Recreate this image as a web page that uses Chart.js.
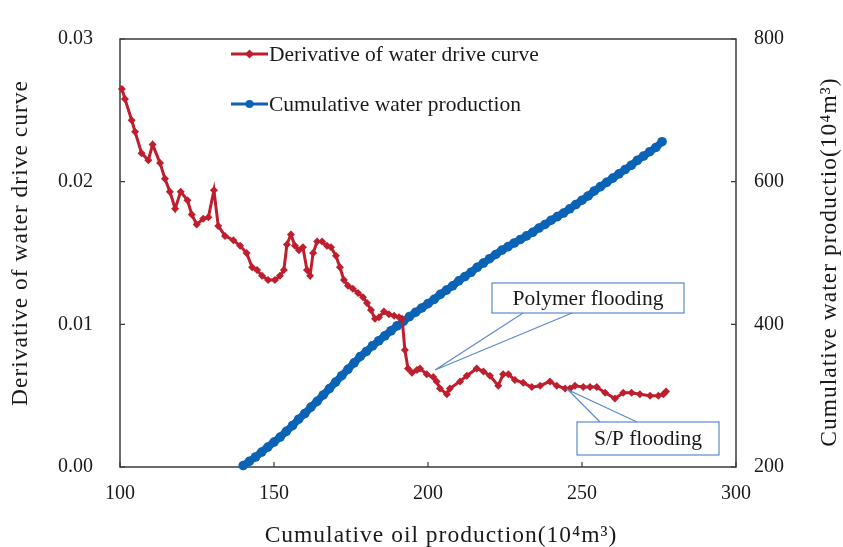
<!DOCTYPE html>
<html>
<head>
<meta charset="utf-8">
<script src="https://cdn.jsdelivr.net/npm/chart.js@4.4.1/dist/chart.umd.min.js"></script>
<style>
  html, body { margin: 0; padding: 0; background: #fff; }
  #wrap { width: 843px; height: 547px; }
</style>
</head>
<body>
<div id="wrap"><canvas id="chart"></canvas></div>
<script>
// cumulative oil production (10^4 m3) for the derivative curve
const oilProdDeriv = [100.6, 101.6, 103.8, 104.9, 107.0, 109.2, 110.6, 113.0, 114.6, 116.2,
    117.9, 119.7, 121.9, 123.3, 124.9, 127.0, 128.7, 130.5, 131.9, 134.1,
    136.8, 139.0, 141.1, 142.9, 144.5, 146.1, 148.1, 150.3, 151.9, 153.2,
    154.2, 155.5, 156.8, 158.1, 159.4, 160.7, 161.7, 162.7, 164.0, 165.6,
    167.2, 168.5, 170.1, 171.4, 172.7, 174.0, 175.6, 177.3, 178.9, 180.2,
    181.5, 182.8, 184.1, 185.7, 187.3, 189.0, 190.6, 191.6, 192.5, 193.5,
    194.8, 196.4, 197.4, 199.6, 201.7, 202.8, 203.9, 206.1, 207.1, 210.4,
    212.6, 215.8, 218.0, 220.1, 222.8, 224.4, 226.1, 228.2, 230.9, 233.7,
    236.4, 239.6, 241.8, 244.5, 246.1, 247.7, 250.4, 252.6, 254.8, 257.5,
    260.7, 263.4, 266.1, 268.8, 272.1, 274.8, 276.4, 277.3];
const derivative = [0.0265, 0.0258, 0.0243, 0.0235, 0.0220, 0.0215, 0.0226, 0.0213, 0.0202, 0.0193,
    0.0181, 0.0193, 0.0187, 0.0177, 0.0170, 0.0174, 0.0175, 0.0194, 0.0169, 0.0162,
    0.0159, 0.0155, 0.0150, 0.0140, 0.0138, 0.0134, 0.0131, 0.0131, 0.0134, 0.0138,
    0.0156, 0.0163, 0.0155, 0.0152, 0.0154, 0.0138, 0.0134, 0.0150, 0.0158, 0.0158,
    0.0155, 0.0154, 0.0148, 0.0140, 0.0131, 0.0127, 0.0125, 0.0122, 0.0119, 0.0115,
    0.0110, 0.0104, 0.0105, 0.0109, 0.0107, 0.0106, 0.0105, 0.0104, 0.0082, 0.0069,
    0.0066, 0.0068, 0.0069, 0.0065, 0.0063, 0.0060, 0.0055, 0.0051, 0.0055, 0.0060,
    0.0064, 0.0069, 0.0067, 0.0064, 0.0057, 0.0065, 0.0065, 0.0061, 0.0059, 0.0056,
    0.0057, 0.0060, 0.0057, 0.0055, 0.0055, 0.0057, 0.0056, 0.0056, 0.0056, 0.0052,
    0.0048, 0.0052, 0.0052, 0.0051, 0.0050, 0.0050, 0.0051, 0.0053];

// cumulative oil production for the water production curve
const oilProdWater = [140, 142, 144, 146, 148, 150, 152, 154, 156, 158,
    160, 162, 164, 166, 168, 170, 172, 174, 176, 178,
    180, 182, 184, 186, 188, 190, 192, 194, 196, 198,
    200, 202, 204, 206, 208, 210, 212, 214, 216, 218,
    220, 222, 224, 226, 228, 230, 232, 234, 236, 238,
    240, 242, 244, 246, 248, 250, 252, 254, 256, 258,
    260, 262, 264, 266, 268, 270, 272, 274, 276];
const waterProd = [202, 208, 214, 221, 228, 235, 242, 250, 258, 267,
    275, 284, 292, 301, 310, 319, 328, 337, 346, 355,
    362, 370, 377, 384, 391, 398, 404, 411, 417, 423,
    429, 435, 442, 448, 454, 461, 467, 473, 480, 486,
    492, 498, 504, 509, 514, 519, 524, 529, 535, 540,
    546, 551, 556, 562, 568, 574, 580, 587, 593, 599,
    605, 611, 617, 623, 630, 636, 642, 648, 656];

const xTicks = [100, 150, 200, 250, 300];
const leftTicks = [0, 0.01, 0.02, 0.03];
const rightTicks = [200, 400, 600, 800];

const seriesNames = ['Derivative of water drive curve', 'Cumulative water production'];
const callouts = [
    { text: 'Polymer flooding', x: 202.3, y: 0.0068 },
    { text: 'S/P flooding', x: 245.5, y: 0.0054 }
];

const RED = '#BE1E2D';
const BLUE = '#0B63B6';
const SERIF = '"Liberation Serif", "Times New Roman", serif';
const TEXT = '#1a1a1a';

function drawDiamond(ctx, x, y, r, color) {
    ctx.fillStyle = color;
    ctx.beginPath();
    ctx.moveTo(x, y - r);
    ctx.lineTo(x + r, y);
    ctx.lineTo(x, y + r);
    ctx.lineTo(x - r, y);
    ctx.closePath();
    ctx.fill();
}

// frame with inward ticks, like the original spreadsheet chart
const framePlugin = {
    id: 'frame',
    beforeDatasetsDraw(chart) {
        const ctx = chart.ctx;
        const a = chart.chartArea;
        const sx = chart.scales.x, sl = chart.scales.y, sr = chart.scales.y1;
        ctx.save();
        ctx.strokeStyle = '#3a3a3a';
        ctx.lineWidth = 1.5;
        ctx.strokeRect(a.left, a.top, a.right - a.left, a.bottom - a.top);
        ctx.lineWidth = 1.2;
        ctx.beginPath();
        xTicks.forEach(v => {
            const px = sx.getPixelForValue(v);
            ctx.moveTo(px, a.bottom);
            ctx.lineTo(px, a.bottom - 5);
        });
        leftTicks.forEach(v => {
            const py = sl.getPixelForValue(v);
            ctx.moveTo(a.left, py);
            ctx.lineTo(a.left + 5, py);
        });
        rightTicks.forEach(v => {
            const py = sr.getPixelForValue(v);
            ctx.moveTo(a.right, py);
            ctx.lineTo(a.right - 5, py);
        });
        ctx.stroke();
        ctx.restore();
    }
};

// legend in the plot, callouts and axis titles
const textPlugin = {
    id: 'texts',
    afterDatasetsDraw(chart) {
        const ctx = chart.ctx;
        const sx = chart.scales.x, sl = chart.scales.y;
        ctx.save();

        // legend
        const legendRows = [
            { y: 54, color: RED, diamond: true },
            { y: 104, color: BLUE, diamond: false }
        ];
        ctx.font = '21.5px ' + SERIF;
        ctx.textBaseline = 'middle';
        ctx.textAlign = 'left';
        legendRows.forEach((row, i) => {
            ctx.strokeStyle = row.color;
            ctx.lineWidth = 3;
            ctx.beginPath();
            ctx.moveTo(231, row.y);
            ctx.lineTo(268, row.y);
            ctx.stroke();
            if (row.diamond) {
                drawDiamond(ctx, 249.5, row.y, 4.5, row.color);
            } else {
                ctx.fillStyle = row.color;
                ctx.beginPath();
                ctx.arc(249.5, row.y, 4, 0, Math.PI * 2);
                ctx.fill();
            }
            ctx.fillStyle = TEXT;
            ctx.fillText(seriesNames[i], 269, row.y + 1);
        });

        // callouts
        const boxes = [
            { l: 492, t: 283, r: 684, b: 313, base: [523, 572], edge: 'b' },
            { l: 577, t: 422, r: 719, b: 455, base: [600, 637], edge: 't' }
        ];
        ctx.font = '21.5px ' + SERIF;
        ctx.textAlign = 'center';
        callouts.forEach((c, i) => {
            const bx = boxes[i];
            const tx = sx.getPixelForValue(c.x), ty = sl.getPixelForValue(c.y);
            const ey = bx.edge === 'b' ? bx.b : bx.t;
            ctx.fillStyle = '#fff';
            ctx.fillRect(bx.l, bx.t, bx.r - bx.l, bx.b - bx.t);
            ctx.strokeStyle = '#5B8BC8';
            ctx.lineWidth = 1.2;
            ctx.strokeRect(bx.l, bx.t, bx.r - bx.l, bx.b - bx.t);
            ctx.beginPath();
            ctx.moveTo(bx.base[0], ey);
            ctx.lineTo(tx, ty);
            ctx.lineTo(bx.base[1], ey);
            ctx.stroke();
            ctx.fillStyle = TEXT;
            ctx.fillText(c.text, (bx.l + bx.r) / 2, (bx.t + bx.b) / 2 + 1);
        });

        // axis titles
        ctx.font = '23.5px ' + SERIF;
        ctx.letterSpacing = '1px';
        ctx.fillStyle = TEXT;
        ctx.textAlign = 'center';
        ctx.fillText('Cumulative oil production(10\u2074m\u00b3)', 441, 536);

        ctx.translate(21, 243);
        ctx.rotate(-Math.PI / 2);
        ctx.fillText('Derivative of water drive curve', 0, 0);
        ctx.setTransform(1, 0, 0, 1, 0, 0);

        ctx.translate(830, 262);
        ctx.rotate(-Math.PI / 2);
        ctx.fillText('Cumulative water productio(10\u2074m\u00b3)', 0, 0);
        ctx.restore();
    }
};

const tickFont = { family: SERIF, size: 20 };

new Chart(document.getElementById('chart'), {
    type: 'scatter',
    data: {
        datasets: [{
            label: seriesNames[0],
            data: oilProdDeriv.map((x, i) => ({ x: x, y: derivative[i] })),
            yAxisID: 'y',
            showLine: true,
            borderColor: RED,
            backgroundColor: RED,
            borderWidth: 3,
            pointStyle: 'rectRot',
            pointRadius: 4,
            pointBorderWidth: 0,
            clip: false
        }, {
            label: seriesNames[1],
            data: oilProdWater.map((x, i) => ({ x: x, y: waterProd[i] })),
            yAxisID: 'y1',
            showLine: true,
            borderColor: BLUE,
            backgroundColor: BLUE,
            borderWidth: 7.5,
            pointStyle: 'circle',
            pointRadius: 4.8,
            pointBorderWidth: 0,
            clip: false
        }]
    },
    options: {
        responsive: true,
        maintainAspectRatio: false,
        animation: false,
        layout: { padding: { top: 21, left: 0, right: 0, bottom: 0 } },
        plugins: {
            legend: { display: false },
            tooltip: { enabled: false }
        },
        scales: {
            x: {
                type: 'linear',
                min: 100,
                max: 300,
                grid: { display: false, drawTicks: false },
                border: { display: false },
                afterBuildTicks: s => { s.ticks = xTicks.map(v => ({ value: v })); },
                ticks: { font: tickFont, color: TEXT, padding: 15 },
                afterFit: s => { s.height = 80; }
            },
            y: {
                type: 'linear',
                position: 'left',
                min: 0,
                max: 0.03,
                grid: { display: false, drawTicks: false },
                border: { display: false },
                afterBuildTicks: s => { s.ticks = leftTicks.map(v => ({ value: v })); },
                ticks: { font: tickFont, color: TEXT, padding: 27, callback: v => v.toFixed(2) },
                afterFit: s => { s.width = 120; }
            },
            y1: {
                type: 'linear',
                position: 'right',
                min: 200,
                max: 800,
                grid: { display: false, drawTicks: false },
                border: { display: false },
                afterBuildTicks: s => { s.ticks = rightTicks.map(v => ({ value: v })); },
                ticks: { font: tickFont, color: TEXT, padding: 18 },
                afterFit: s => { s.width = 107; }
            }
        }
    },
    plugins: [framePlugin, textPlugin]
});
</script>
</body>
</html>
